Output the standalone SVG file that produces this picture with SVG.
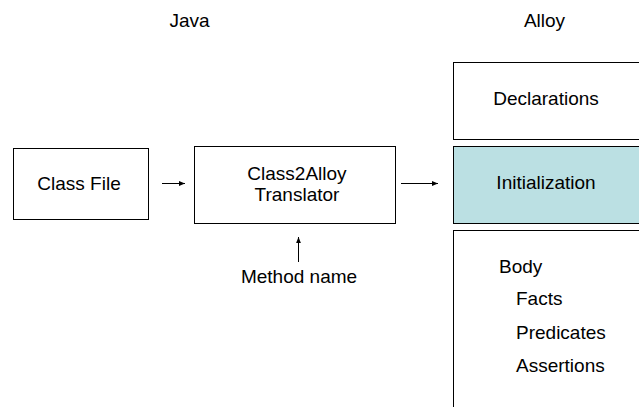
<svg xmlns="http://www.w3.org/2000/svg" width="639" height="407" viewBox="0 0 639 407">
<defs>
<style>
text{font-family:"Liberation Sans",Arial,sans-serif;font-size:19px;fill:#000}
.box{fill:#fff;stroke:#000;stroke-width:1}
.hl{fill:#bbe0e3;stroke:#000;stroke-width:1}
.c{stroke:#000;stroke-width:1;fill:none}
</style>
<marker id="ah" viewBox="0 0 10 10" refX="10" refY="5" markerWidth="6" markerHeight="6" orient="auto" markerUnits="userSpaceOnUse">
<path d="M0,1 L10,5 L0,9 z" fill="#000"/>
</marker>
</defs>
<rect width="639" height="407" fill="#fff"/>
<text x="189.5" y="27" text-anchor="middle">Java</text>
<text x="544.5" y="27" text-anchor="middle">Alloy</text>
<g id="classfile">
<rect class="box" x="13.5" y="148.5" width="135" height="71"/>
<text x="79" y="190" text-anchor="middle">Class File</text>
</g>
<g id="translator">
<rect class="box" x="194.5" y="146.5" width="201" height="77"/>
<text x="297" y="180" text-anchor="middle">Class2Alloy</text>
<text x="297" y="201" text-anchor="middle">Translator</text>
</g>
<g id="methodname">
<text x="299" y="283" text-anchor="middle">Method name</text>
</g>
<g id="declarations">
<rect class="box" x="453.5" y="62.5" width="190" height="77"/>
<text x="546" y="105" text-anchor="middle">Declarations</text>
</g>
<g id="initialization">
<rect class="hl" x="453.5" y="146.5" width="190" height="77"/>
<text x="546" y="189" text-anchor="middle">Initialization</text>
</g>
<g id="body">
<rect class="box" x="453.5" y="230.5" width="190" height="190"/>
<text x="499" y="273">Body</text>
<text x="516" y="305">Facts</text>
<text x="516" y="339">Predicates</text>
<text x="516" y="372">Assertions</text>
</g>
<g id="connectors">
<line class="c" x1="162" y1="183.5" x2="185" y2="183.5" marker-end="url(#ah)"/>
<line class="c" x1="401" y1="183.5" x2="438" y2="183.5" marker-end="url(#ah)"/>
<line class="c" x1="298.5" y1="262" x2="298.5" y2="237" marker-end="url(#ah)"/>
</g>
</svg>
